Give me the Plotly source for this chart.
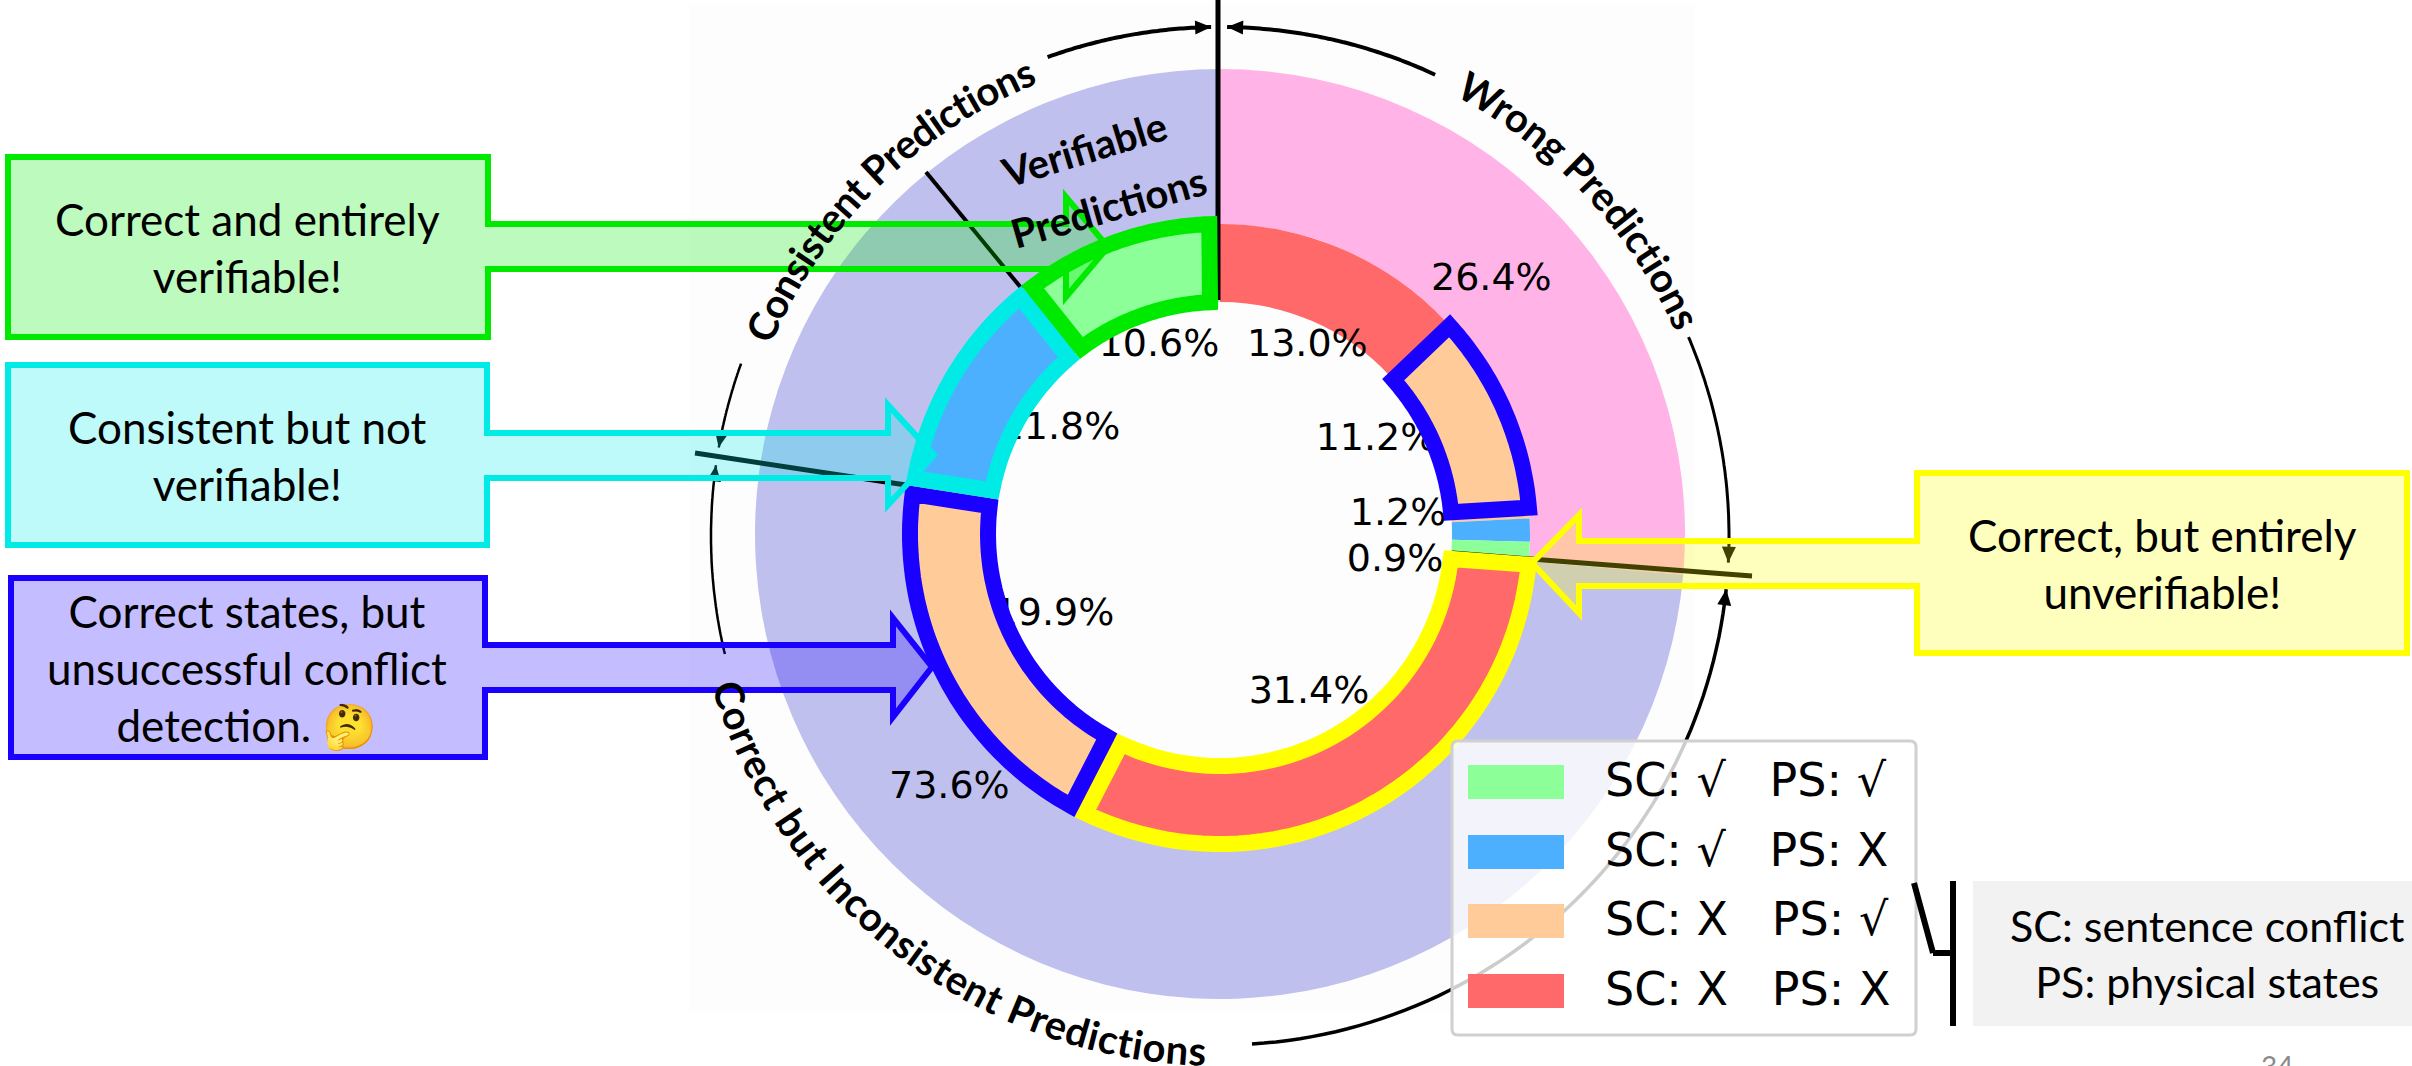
import json
import numpy as np
import plotly.graph_objects as go

# Prediction shares, clockwise from twelve o'clock
outer_names = ["Wrong Predictions", "Correct but Inconsistent Predictions"]
outer_values = [26.4, 73.6]
outer_colors = ["#ffb3e6", "#c0c0ee"]

inner_names = ["SC: X PS: X", "SC: X PS: √", "SC: √ PS: X", "SC: √ PS: √",
               "SC: X PS: X", "SC: X PS: √", "SC: √ PS: X", "SC: √ PS: √"]
inner_values = [13.0, 11.2, 1.2, 0.9, 31.4, 19.9, 11.8, 10.6]
inner_colors = ["#ff6969", "#ffcc99", "#4db0ff", "#8cff99",
                "#ff6969", "#ffcc99", "#4db0ff", "#8cff99"]

GREEN, CYAN, BLUE, YELLOW = "#00ea00", "#00eae6", "#1a00ff", "#ffff00"
# Slice index -> outline colour, in drawing order
outlined_slices = [(1, BLUE), (4, YELLOW), (5, BLUE), (6, CYAN), (7, GREEN)]

legend_labels = ["SC: √\u00a0\u00a0\u00a0PS: √", "SC: √\u00a0\u00a0\u00a0PS: X",
                 "SC: X\u00a0\u00a0\u00a0PS: √", "SC: X\u00a0\u00a0\u00a0PS: X"]
legend_colors = ["#8cff99", "#4db0ff", "#ffcc99", "#ff6969"]

W, H = 2412, 1066
CX, CY = 1220, 534
R_OUT, R_MID, R_IN = 465, 310, 232
OUTLINE = 16
ARC_CY, ARC_R = 536, 509
BODY_FONT = "Lato"
PLOT_FONT = "DejaVu Sans"


def pie_domain(radius):
    return dict(x=[(CX - radius) / W, (CX + radius) / W],
                y=[1 - (CY + radius) / H, 1 - (CY - radius) / H])


def polar(theta, r, cy=ARC_CY):
    a = np.radians(theta)
    return CX + r * np.sin(a), cy - r * np.cos(a)


def arc_shape(t0, t1, width, r=ARC_R):
    pts = [polar(t, r) for t in np.linspace(t0, t1, 60)]
    d = "M" + " L".join(f"{x:.1f},{y:.1f}" for x, y in pts)
    return dict(type="path", path=d, line=dict(color="#000000", width=width))


def arrow_head(tip_theta, toward, r=ARC_R, size=16, half=7):
    # Small filled triangle sitting on the arc, pointing at tip_theta
    tip = np.array(polar(tip_theta, r))
    back_angle = tip_theta + np.sign(toward - tip_theta) * np.degrees(size / r)
    base = np.array(polar(back_angle, r))
    n = np.array([-(tip - base)[1], (tip - base)[0]]) / np.linalg.norm(tip - base)
    a, b = base + n * half, base - n * half
    d = f"M{tip[0]:.1f},{tip[1]:.1f} L{a[0]:.1f},{a[1]:.1f} L{b[0]:.1f},{b[1]:.1f} Z"
    return dict(type="path", path=d, fillcolor="#000000", line=dict(width=0))


def slice_outline(index, color):
    # Outline of one ring slice, kept inside the slice's own angular span
    start = sum(inner_values[:index]) * 3.6 - 0.5
    stop = start + inner_values[index] * 3.6
    pts = []
    for r, a, b in [(R_MID, start, stop), (R_IN, stop, start)]:
        inset = np.degrees((OUTLINE / 2) / r) * np.sign(b - a)
        pts += [polar(t, r, CY) for t in np.linspace(a + inset, b - inset, 50)]
    d = "M" + " L".join(f"{x:.1f},{y:.1f}" for x, y in pts) + " Z"
    return dict(type="path", path=d, line=dict(color=color, width=OUTLINE))


def seg(x0, y0, x1, y1, width=5, color="#000000"):
    return dict(type="line", x0=x0, y0=y0, x1=x1, y1=y1, line=dict(color=color, width=width))


def callout(points, color, fill):
    d = "M" + " L".join(f"{x},{y}" for x, y in points) + " Z"
    return dict(type="path", path=d, fillcolor=fill, line=dict(color=color, width=6))


def rounded(x0, y0, x1, y1, r, fill, edge):
    d = (f"M{x0+r},{y0} L{x1-r},{y0} Q{x1},{y0} {x1},{y0+r} L{x1},{y1-r} Q{x1},{y1} {x1-r},{y1} "
         f"L{x0+r},{y1} Q{x0},{y1} {x0},{y1-r} L{x0},{y0+r} Q{x0},{y0} {x0+r},{y0} Z")
    return dict(type="path", path=d, fillcolor=fill, line=dict(color=edge, width=3))


shapes = [dict(type="rect", x0=689, y0=5, x1=1695, y1=1012, fillcolor="#fdfdfd",
               line=dict(width=0), layer="below")]

# Brackets around the ring: (tail, tip, stroke width)
for tail, tip, width in [(-19.8, -1.0, 4), (25, 0.8, 4), (67, 93, 3), (176.4, 96, 3.5),
                         (-103.4, -82, 2.5), (-70.2, -80, 2.5)]:
    shapes.append(arc_shape(tail, tip, width))
    shapes.append(arrow_head(tip, tail))

# Sector divider lines
shapes += [
    seg(1218, 0, 1218, 300, 5),
    seg(926, 172, 1022, 289, 4),
    seg(695, 453, 906, 485, 5),
    seg(1752, 576, 1452, 553, 5),
]

# Coloured outlines on the highlighted ring slices
shapes += [slice_outline(i, c) for i, c in outlined_slices]

# Callout boxes with arrows pointing at the ring
shapes += [
    callout([(8, 157), (488, 157), (488, 224), (1066, 224), (1066, 197), (1108, 247),
             (1066, 297), (1066, 269), (488, 269), (488, 337), (8, 337)],
            GREEN, "rgba(0,235,0,0.26)"),
    callout([(8, 365), (487, 365), (487, 433), (888, 433), (888, 405), (934, 455),
             (888, 505), (888, 478), (487, 478), (487, 545), (8, 545)],
            CYAN, "rgba(0,235,230,0.26)"),
    callout([(11, 578), (485, 578), (485, 645), (893, 645), (893, 618), (932, 667),
             (893, 717), (893, 690), (485, 690), (485, 757), (11, 757)],
            BLUE, "rgba(26,0,255,0.26)"),
    callout([(2407, 473), (1917, 473), (1917, 541), (1579, 541), (1579, 515), (1532, 563),
             (1579, 613), (1579, 586), (1917, 586), (1917, 653), (2407, 653)],
            YELLOW, "rgba(255,255,0,0.26)"),
]

# Legend panel and swatches
shapes.append(rounded(1452, 741, 1916, 1035, 6, "rgba(255,255,255,0.8)", "#d0d0d0"))
legend_rows_y = [782, 852, 921, 991]
for y, c in zip(legend_rows_y, legend_colors):
    shapes.append(dict(type="rect", x0=1468, x1=1564, y0=y - 17, y1=y + 17,
                       fillcolor=c, line=dict(width=0)))

# Abbreviation note with its bracket
shapes += [
    dict(type="rect", x0=1973, x1=W, y0=881, y1=1026, fillcolor="#f2f2f2", line=dict(width=0)),
    seg(1953, 881, 1953, 1026, 6),
    seg(1953, 953, 1933, 953, 6),
    seg(1933, 953, 1914, 883, 6),
]


def note(text, x, y, size=44, color="#000000", family=BODY_FONT, weight=400, angle=0, xanchor="center"):
    return dict(text=text, x=x, y=y, xref="x", yref="y", showarrow=False, xanchor=xanchor,
                yanchor="middle", textangle=angle, align="center",
                font=dict(family=family, size=size, color=color, weight=weight))


annotations = [
    note("Correct and entirely<br>verifiable!", 247, 247),
    note("Consistent but not<br>verifiable!", 247, 455),
    note("Correct states, but<br>unsuccessful conflict<br>detection. 🤔", 247, 668),
    note("Correct, but entirely<br>unverifiable!", 2162, 563),
    note("SC: sentence conflict<br>PS: physical states", 2207, 953, size=43),
    note("Verifiable", 1084, 149, size=40, weight=700, angle=-17),
    note("Predictions", 1108, 207, size=40, weight=700, angle=-16),
    note("34", 2277, 1066, size=28, color="#8a8a8a"),
    note(f"{outer_values[0]:.1f}%", 1491, 277, size=38, family=PLOT_FONT),
    note(f"{outer_values[1]:.1f}%", 949, 785, size=38, family=PLOT_FONT),
    # The first slice's label stays legible above the ring
    note(f"{inner_values[0]:.1f}%", 1307, 343, size=38, family=PLOT_FONT),
]
for label, y in zip(legend_labels, legend_rows_y):
    annotations.append(note(label, 1603, y - 2, size=46, family=PLOT_FONT, xanchor="left"))

# Captions that follow the ring; they start out as ordinary annotations and
# are laid onto their arcs once the page has drawn.
ring_captions = [
    dict(text="Consistent Predictions", r=488, t0=-67, t1=-21.8, cw=1),
    dict(text="Wrong Predictions", r=499, t0=28, t1=66, cw=1),
    dict(text="Correct but Inconsistent Predictions", r=530, t0=-106.5, t1=-178.5, cw=0),
]
for c in ring_captions:
    (x0, y0), (x1, y1) = polar(c["t0"], c["r"]), polar(c["t1"], c["r"])
    c["d"] = f"M{x0:.1f},{y0:.1f} A{c['r']},{c['r']} 0 0 {c['cw']} {x1:.1f},{y1:.1f}"
    c["length"] = float(np.radians(abs(c["t1"] - c["t0"])) * c["r"])
    annotations.append(note(c["text"], x0, y0, size=40, weight=700))

bend_text = """
var svgNS = 'http://www.w3.org/2000/svg';
var captions = %s;
var gd = document.getElementById('{plot_id}');
var root = gd.querySelector('svg.main-svg:last-of-type');
var all = Array.from(gd.querySelectorAll('.annotation-text'));
captions.forEach(function (c, i) {
  var t = all.find(function (e) { return e.textContent === c.text; });
  if (!t) return;
  var path = document.createElementNS(svgNS, 'path');
  path.setAttribute('id', 'ring-caption-' + i);
  path.setAttribute('d', c.d);
  path.setAttribute('fill', 'none');
  root.appendChild(path);
  var holder = document.createElementNS(svgNS, 'g');
  root.appendChild(holder);
  holder.appendChild(t);
  t.removeAttribute('transform');
  t.removeAttribute('x');
  t.removeAttribute('y');
  t.setAttribute('text-anchor', 'start');
  t.style.textAnchor = 'start';
  t.textContent = '';
  var tp = document.createElementNS(svgNS, 'textPath');
  tp.setAttribute('href', '#ring-caption-' + i);
  tp.textContent = c.text;
  t.appendChild(tp);
  var extra = (c.length - t.getComputedTextLength()) / (c.text.length - 1);
  t.style.letterSpacing = extra + 'px';
});
""" % json.dumps(ring_captions)

# Remaining percent labels sit under the ring, so its outlines can overlap them
under_label_x = [1376, 1398, 1395, 1309, 1054, 1060, 1159]
under_label_y = [440, 515, 561, 693, 615, 429, 346]

fig = go.Figure()
fig.add_trace(go.Scatter(
    x=under_label_x, y=under_label_y, mode="text",
    text=[f"{v:.1f}%" for v in inner_values[1:]], textposition="middle center",
    textfont=dict(family=PLOT_FONT, size=38, color="#000000"),
    cliponaxis=False, hoverinfo="skip", showlegend=False,
))
fig.add_trace(go.Pie(
    labels=outer_names, values=outer_values, sort=False, direction="clockwise", rotation=0,
    hole=R_MID / R_OUT, domain=pie_domain(R_OUT), textinfo="none", showlegend=False,
    marker=dict(colors=outer_colors, line=dict(width=0)),
))
fig.add_trace(go.Pie(
    labels=[f"{n} ({i})" for i, n in enumerate(inner_names)], values=inner_values, sort=False,
    direction="clockwise", rotation=0, hole=R_IN / R_MID, domain=pie_domain(R_MID),
    textinfo="none", showlegend=False,
    marker=dict(colors=inner_colors, line=dict(width=0)),
))

fig.update_layout(
    width=W, height=H, margin=dict(l=0, r=0, t=0, b=0),
    paper_bgcolor="#ffffff", plot_bgcolor="rgba(0,0,0,0)", showlegend=False,
    xaxis=dict(range=[0, W], visible=False, domain=[0, 1], fixedrange=True),
    yaxis=dict(range=[H, 0], visible=False, domain=[0, 1], fixedrange=True),
    shapes=shapes, annotations=annotations,
)

fig.write_html("out.html", post_script=bend_text)
